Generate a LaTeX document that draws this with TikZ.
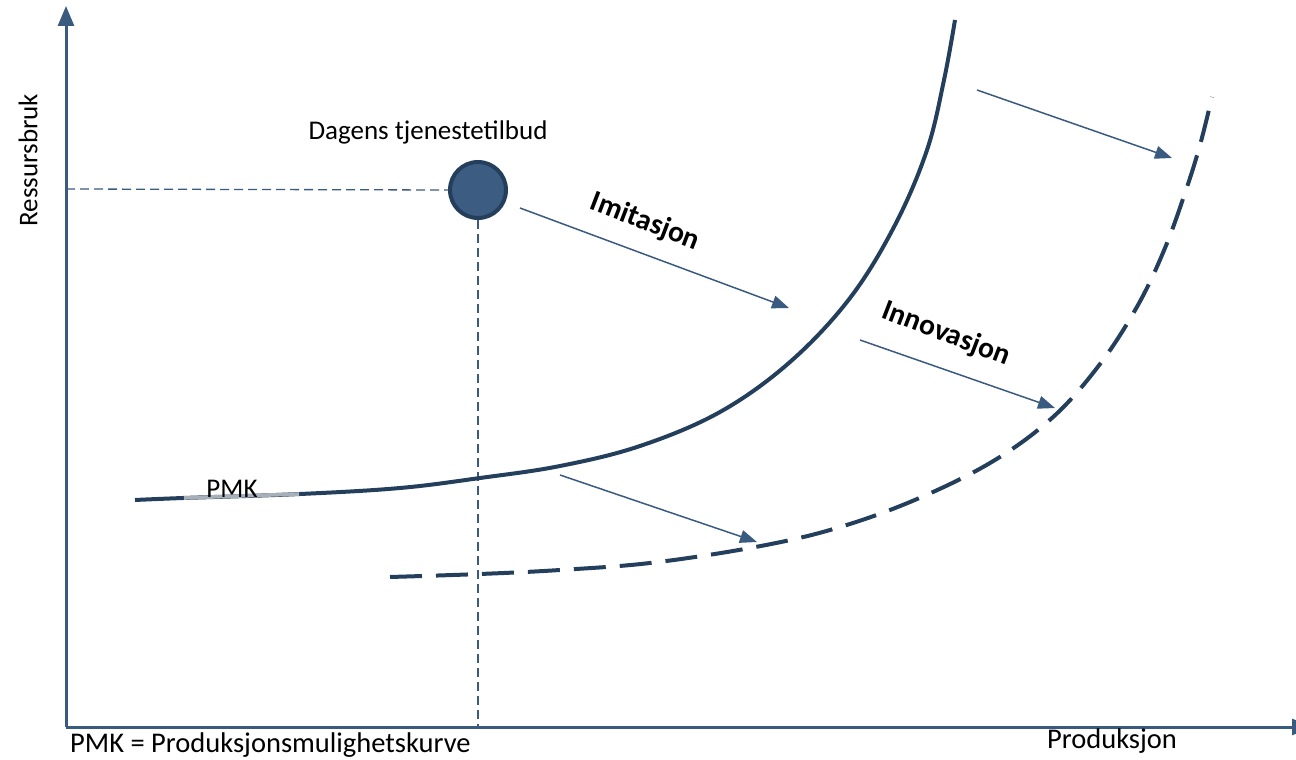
\documentclass[tikz,border=0pt]{standalone}
\usepackage{fontspec}
\setmainfont{Carlito}
\usetikzlibrary{arrows.meta}
\definecolor{navy}{HTML}{243F5C}
\definecolor{axisblue}{HTML}{3A5A80}
\definecolor{fillblue}{HTML}{3C5C82}
\definecolor{pmkgray}{HTML}{A7AFB9}
\tikzset{
  axisline/.style={axisblue, line width=3pt},
  curveline/.style={navy, line width=4pt},
  shiftarrow/.style={axisblue, line width=1.5pt, -{Triangle[length=17pt,width=13pt]}},
  guide/.style={axisblue, line width=1.3pt, dash pattern=on 9pt off 5pt},
  lbl/.style={font=\fontsize{27}{32}\selectfont, inner sep=0pt},
  biglbl/.style={font=\fontsize{28.5}{34}\selectfont, inner sep=0pt},
  boldlbl/.style={font=\fontsize{29.5}{35}\selectfont\bfseries, inner sep=0pt, rotate=-21}
}
\begin{document}
\begin{tikzpicture}[x=1pt,y=-1pt]
\useasboundingbox (0,0) rectangle (1296,760);
\clip (0,0) rectangle (1296,760);
% axes
\coordinate (origin) at (66,727);
\coordinate (ytop) at (66,6);
\coordinate (xend) at (1312,727);
\draw[axisline, -{Triangle[length=20pt,width=16pt]}] (origin) -- (ytop);
\draw[axisline, -{Triangle[length=20pt,width=16pt]}] (origin) -- (xend);
% today's point
\node[circle, minimum size=56pt, fill=fillblue, draw=navy, line width=4pt, inner sep=0pt] (today) at (478,190) {};
\coordinate (yproj) at (66,189);
\coordinate (xproj) at (478,727);
\draw[guide] (yproj) -- (today.west);
\draw[guide] (today.south) -- (xproj);
% solid PMK curve
\draw[curveline] plot[smooth, tension=0.6] coordinates {(135,500) (183,498) (300,494) (400,488) (480,478) (560,466) (640,446) (720,412) (790,362) (850,298) (895,225) (927,150) (944,80) (955,20)};
\draw[pmkgray, line width=3.6pt] plot[smooth] coordinates {(184,498) (240,496) (299,494)};
% dashed curve
\draw[curveline, dash pattern=on 32pt off 14pt] plot[smooth, tension=0.6] coordinates {(390,577) (480,574) (560,570) (650,563) (750,548) (830,530) (910,502) (990,463) (1052,418) (1100,364) (1138,305) (1165,248) (1186,190) (1200,145) (1212,97)};
% shift arrows
\coordinate (a1s) at (520,208); \coordinate (a1e) at (789,308);
\coordinate (a2s) at (860,340); \coordinate (a2e) at (1055,408);
\coordinate (a3s) at (977,90);  \coordinate (a3e) at (1172,158);
\coordinate (a4s) at (560,475); \coordinate (a4e) at (757,542);
\draw[shiftarrow] (a1s) -- (a1e);
\draw[shiftarrow] (a2s) -- (a2e);
\draw[shiftarrow] (a3s) -- (a3e);
\draw[shiftarrow] (a4s) -- (a4e);
% labels
\node[lbl] (dagens) at (428,132) {Dagens tjenestetilbud};
\node[boldlbl] (imit) at (645,222) {Imitasjon};
\node[boldlbl] (innov) at (946,334) {Innovasjon};
\node[lbl] (pmk) at (232,489) {PMK};
\node[lbl, rotate=90] (ress) at (28,160) {Ressursbruk};
\node[biglbl, anchor=west] (legend) at (70,745) {PMK = Produksjonsmulighetskurve};
\node[biglbl] (prod) at (1112,741) {Produksjon};
\end{tikzpicture}
\end{document}
